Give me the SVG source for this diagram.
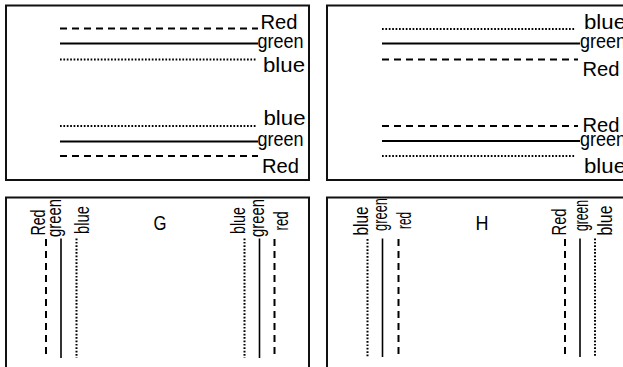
<svg xmlns="http://www.w3.org/2000/svg" width="623" height="367" viewBox="0 0 623 367">
<style>
.box{fill:#fff;stroke:#111;stroke-width:2}
.dash{stroke:#000;stroke-width:2;stroke-dasharray:7,5;fill:none}
.solid{stroke:#000;stroke-width:2;fill:none}
.dot{stroke:#000;stroke-width:2;stroke-dasharray:1.7,1.7;fill:none}
.vsolid{stroke:#000;stroke-width:1.6;fill:none}
text{font-family:"Liberation Sans",Arial,sans-serif;fill:#000}
.big{font-size:21px}
.sm{font-size:20px}
.rot{font-size:19.5px}
</style>
<rect width="623" height="367" fill="#fff"/>
<g id="panel-a">
<rect class="box" x="6" y="5.5" width="303" height="174.5"/>
<text class="big" x="260.5" y="29" textLength="37" lengthAdjust="spacingAndGlyphs">Red</text>
<text class="sm" x="257.5" y="48" textLength="46" lengthAdjust="spacingAndGlyphs">green</text>
<text class="big" x="263" y="72" textLength="42" lengthAdjust="spacingAndGlyphs">blue</text>
<text class="big" x="263.5" y="125" textLength="42" lengthAdjust="spacingAndGlyphs">blue</text>
<text class="sm" x="257.5" y="145.5" textLength="46" lengthAdjust="spacingAndGlyphs">green</text>
<text class="big" x="262" y="172.5" textLength="37" lengthAdjust="spacingAndGlyphs">Red</text>
</g>
<g id="panel-b">
<rect class="box" x="327" y="5.5" width="303" height="174.5"/>
<text class="big" x="584" y="29" textLength="42" lengthAdjust="spacingAndGlyphs">blue</text>
<text class="sm" x="580" y="48" textLength="46" lengthAdjust="spacingAndGlyphs">green</text>
<text class="big" x="582.5" y="75.5" textLength="37" lengthAdjust="spacingAndGlyphs">Red</text>
<text class="big" x="582.5" y="131.5" textLength="37" lengthAdjust="spacingAndGlyphs">Red</text>
<text class="sm" x="580" y="145.5" textLength="46" lengthAdjust="spacingAndGlyphs">green</text>
<text class="big" x="584" y="173" textLength="42" lengthAdjust="spacingAndGlyphs">blue</text>
</g>
<g id="panel-g">
<rect class="box" x="6" y="197.5" width="303" height="175"/>
<text class="big" x="160" y="229.5" text-anchor="middle" textLength="13" lengthAdjust="spacingAndGlyphs">G</text>
<text class="rot" transform="translate(45,235.5) rotate(-90)" textLength="26" lengthAdjust="spacingAndGlyphs">Red</text>
<text class="rot" transform="translate(61,237) rotate(-90)" textLength="38" lengthAdjust="spacingAndGlyphs">green</text>
<text class="rot" transform="translate(88.5,234) rotate(-90)" textLength="28" lengthAdjust="spacingAndGlyphs">blue</text>
<text class="rot" transform="translate(245,234) rotate(-90)" textLength="27" lengthAdjust="spacingAndGlyphs">blue</text>
<text class="rot" transform="translate(264,237) rotate(-90)" textLength="38" lengthAdjust="spacingAndGlyphs">green</text>
<text class="rot" transform="translate(288,230.5) rotate(-90)" textLength="19" lengthAdjust="spacingAndGlyphs">red</text>
</g>
<g id="panel-h">
<rect class="box" x="327" y="197.5" width="303" height="175"/>
<text class="big" x="482" y="229.5" text-anchor="middle" textLength="13" lengthAdjust="spacingAndGlyphs">H</text>
<text class="rot" transform="translate(367.5,235.5) rotate(-90)" textLength="29" lengthAdjust="spacingAndGlyphs">blue</text>
<text class="rot" transform="translate(387,231) rotate(-90)" textLength="33" lengthAdjust="spacingAndGlyphs">green</text>
<text class="rot" transform="translate(410.5,229) rotate(-90)" textLength="17" lengthAdjust="spacingAndGlyphs">red</text>
<text class="rot" transform="translate(566,235.5) rotate(-90)" textLength="27" lengthAdjust="spacingAndGlyphs">Red</text>
<text class="rot" transform="translate(588,231) rotate(-90)" textLength="31" lengthAdjust="spacingAndGlyphs">green</text>
<text class="rot" transform="translate(611.5,235.5) rotate(-90)" textLength="30" lengthAdjust="spacingAndGlyphs">blue</text>
</g>
<g id="connectors">
<line class="dash" x1="60" y1="28.5" x2="258" y2="28.5"/>
<line class="solid" x1="60" y1="43.5" x2="258" y2="43.5"/>
<line class="dot" x1="60" y1="59.5" x2="256" y2="59.5"/>
<line class="dot" x1="60" y1="126" x2="256" y2="126"/>
<line class="solid" x1="60" y1="141.5" x2="258" y2="141.5"/>
<line class="dash" x1="60" y1="156" x2="258" y2="156"/>
<line class="dot" x1="382" y1="29" x2="575" y2="29"/>
<line class="solid" x1="382" y1="43.5" x2="580" y2="43.5"/>
<line class="dash" x1="382" y1="59.5" x2="578" y2="59.5"/>
<line class="dash" x1="382" y1="126" x2="578" y2="126"/>
<line class="solid" x1="382" y1="141" x2="580" y2="141"/>
<line class="dot" x1="382" y1="156" x2="575" y2="156"/>
<line class="dash" x1="46" y1="239" x2="46" y2="358"/>
<line class="vsolid" x1="61" y1="238.5" x2="61" y2="358"/>
<line class="dot" x1="76.5" y1="238.5" x2="76.5" y2="358"/>
<line class="dot" x1="244.5" y1="238.5" x2="244.5" y2="358"/>
<line class="vsolid" x1="259.5" y1="238.5" x2="259.5" y2="358"/>
<line class="dash" x1="274.5" y1="239" x2="274.5" y2="358"/>
<line class="dot" x1="367.5" y1="239" x2="367.5" y2="357"/>
<line class="vsolid" x1="382.5" y1="238.5" x2="382.5" y2="357"/>
<line class="dash" x1="398.5" y1="239" x2="398.5" y2="357"/>
<line class="dash" x1="565" y1="239" x2="565" y2="357"/>
<line class="vsolid" x1="580" y1="238.5" x2="580" y2="357"/>
<line class="dot" x1="595" y1="238.5" x2="595" y2="357"/>
</g>
</svg>
